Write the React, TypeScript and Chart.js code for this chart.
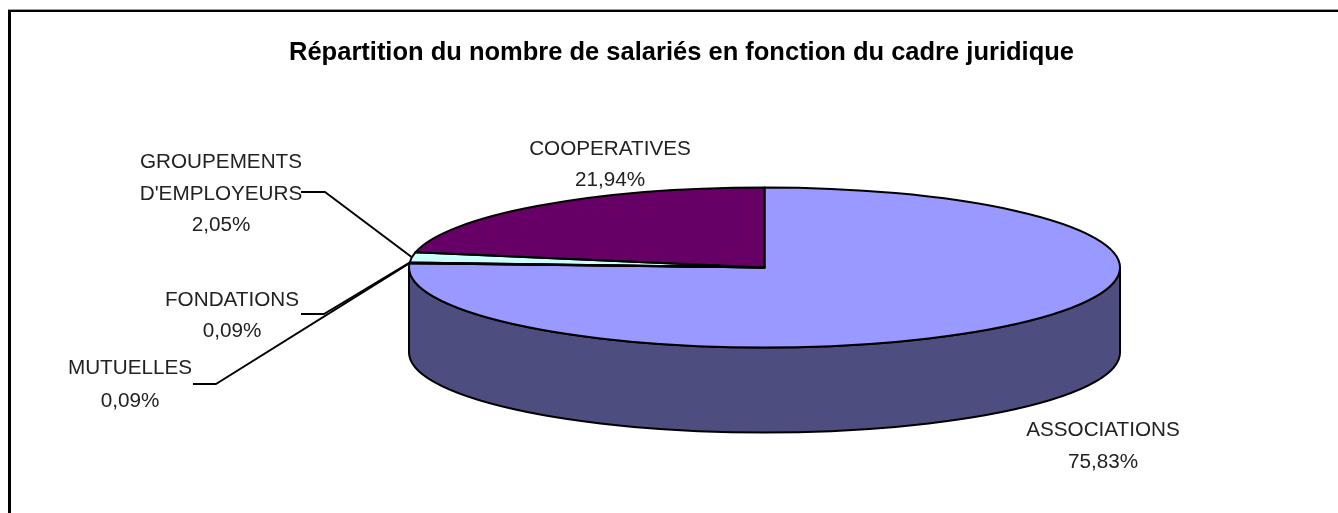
import React, { useEffect, useRef } from "react";
import { Chart, registerables } from "chart.js";

Chart.register(...registerables);

const categories = ["ASSOCIATIONS", "MUTUELLES", "FONDATIONS", "GROUPEMENTS D'EMPLOYEURS", "COOPERATIVES"];
const shares = [75.83, 0.09, 0.09, 2.05, 21.94];
const sliceColors = ["#9999FF", "#993366", "#FFFFCC", "#CCFFFF", "#660066"];
const wallColors = ["#4D4D80", "#4D1A33", "#808066", "#668080", "#330033"];
const titleText = "Répartition du nombre de salariés en fonction du cadre juridique";

const CX = 764.5, CY = 267.5, RX = 355.5, RY = 80, DEPTH = 85;
const FONT = '"Liberation Sans", Arial, sans-serif';

const labelLayout = [
  { lines: ["ASSOCIATIONS"], x: 1103, y: 430, step: 32.5 },
  { lines: ["MUTUELLES"], x: 130, y: 368.5, step: 32.5, elbow: [[193, 384], [216, 384]] },
  { lines: ["FONDATIONS"], x: 232, y: 300, step: 31 },
  { lines: ["GROUPEMENTS", "D'EMPLOYEURS"], x: 221, y: 162.5, step: 31.5, elbow: [[301, 192], [325, 192]] },
  { lines: ["COOPERATIVES"], x: 610, y: 149.5, step: 31 },
];
const fondationsElbow = [[301, 314], [324, 314]];

const pct = (v: number) => v.toFixed(2).replace(".", ",") + "%";

const piePlugin = {
  id: "pie3d",
  beforeDraw(chart: any) {
    const { ctx, width, height } = chart;
    ctx.save();
    ctx.fillStyle = "#fff";
    ctx.fillRect(0, 0, width, height);
    ctx.fillStyle = "#a0a0a0";
    ctx.fillRect(8, 9, width - 8, 1);
    ctx.fillStyle = "#000";
    ctx.fillRect(8, 10, width - 8, 2);
    ctx.fillRect(8, 10, 3, height - 10);
    ctx.restore();
  },
  beforeDatasetsDraw(chart: any) {
    const { ctx } = chart;
    const arcs = chart.getDatasetMeta(0).data;
    ctx.save();
    ctx.lineWidth = 2;
    ctx.strokeStyle = "#000";
    ctx.lineJoin = "round";
    arcs.forEach((arc: any, i: number) => {
      const a = Math.max(arc.startAngle, 0);
      const b = Math.min(arc.endAngle, Math.PI);
      if (b <= a) return;
      ctx.beginPath();
      ctx.ellipse(CX, CY, RX, RY, 0, a, b);
      ctx.ellipse(CX, CY + DEPTH, RX, RY, 0, b, a, true);
      ctx.closePath();
      ctx.fillStyle = wallColors[i];
      ctx.fill();
      ctx.stroke();
    });
    ctx.restore();
    const first = arcs[0];
    ctx.save();
    ctx.translate(CX, CY);
    ctx.scale(RX / first.outerRadius, RY / first.outerRadius);
    ctx.translate(-first.x, -first.y);
  },
  afterDatasetsDraw(chart: any) {
    const { ctx } = chart;
    ctx.restore();
    const arcs = chart.getDatasetMeta(0).data;
    ctx.save();
    ctx.lineWidth = 2;
    ctx.strokeStyle = "#000";
    ctx.lineJoin = "round";
    arcs.forEach((arc: any) => {
      ctx.beginPath();
      ctx.moveTo(CX, CY);
      ctx.ellipse(CX, CY, RX, RY, 0, arc.startAngle, arc.endAngle);
      ctx.closePath();
      ctx.stroke();
    });
    // leader lines
    ctx.lineWidth = 2;
    labelLayout.forEach((l: any, i) => {
      const elbow = l.elbow || (i === 2 ? fondationsElbow : null);
      if (!elbow) return;
      const mid = (arcs[i].startAngle + arcs[i].endAngle) / 2;
      ctx.beginPath();
      ctx.moveTo(elbow[0][0], elbow[0][1]);
      ctx.lineTo(elbow[1][0], elbow[1][1]);
      ctx.lineTo(CX + RX * Math.cos(mid), CY + RY * Math.sin(mid));
      ctx.stroke();
    });
    // labels
    ctx.fillStyle = "#222";
    ctx.font = `20.7px ${FONT}`;
    ctx.textAlign = "center";
    ctx.textBaseline = "middle";
    labelLayout.forEach((l, i) => {
      const lines = [...l.lines, pct(shares[i])];
      lines.forEach((t, k) => ctx.fillText(t, l.x, l.y + k * l.step));
    });
    ctx.restore();
  },
};

export default function App() {
  const ref = useRef<HTMLCanvasElement>(null);
  useEffect(() => {
    const chart = new Chart(ref.current!, {
      type: "pie",
      data: {
        labels: categories,
        datasets: [{ data: shares, backgroundColor: sliceColors, borderWidth: 0, clip: false } as any],
      },
      options: {
        responsive: false,
        animation: false,
        events: [],
        layout: { padding: { left: 25, right: 0, top: 0, bottom: 0 } },
        plugins: {
          legend: { display: false },
          tooltip: { enabled: false },
          title: {
            display: true,
            text: titleText,
            color: "#000",
            font: { family: FONT, size: 25.5, weight: "bold" },
            padding: { top: 38, bottom: 20 },
          },
        },
      },
      plugins: [piePlugin],
    } as any);
    return () => chart.destroy();
  }, []);
  return (
    <canvas
      ref={ref}
      width={1338}
      height={513}
      style={{ position: "fixed", left: 0, top: 0, width: 1338, height: 513, display: "block" }}
    />
  );
}
